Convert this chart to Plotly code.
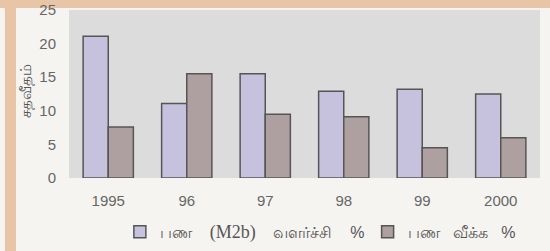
import plotly.graph_objects as go

categories = ["1995", "96", "97", "98", "99", "2000"]
money_growth = [21.1, 11.1, 15.5, 12.9, 13.2, 12.5]
inflation = [7.6, 15.5, 9.5, 9.1, 4.5, 6.0]
series_names = [
    "பண&nbsp;&nbsp;&nbsp; <span style='font-family:Liberation Serif;font-size:18px'>(M2b)</span>&nbsp;&nbsp;&nbsp; வளர்ச்சி&nbsp;&nbsp;&nbsp; %",
    "பண&nbsp;&nbsp; வீக்க&nbsp;&nbsp; %",
]
y_title = "சதவீதம்"
y_ticks = [0, 5, 10, 15, 20, 25]

fig = go.Figure()
fig.add_trace(go.Bar(x=categories, y=money_growth, name=series_names[0], legend="legend",
                     marker=dict(color="#c6c2de", line=dict(color="#555555", width=1.5))))
fig.add_trace(go.Bar(x=categories, y=inflation, name=series_names[1], legend="legend2",
                     marker=dict(color="#ae9fa0", line=dict(color="#555555", width=1.5))))

tan = "#e8c5a6"
fig.add_shape(type="rect", xref="paper", yref="paper", x0=-0.2, x1=1.05, y0=1.012, y1=1.07,
              fillcolor=tan, line=dict(width=0), layer="below")
fig.add_shape(type="rect", xref="paper", yref="paper", x0=-0.136, x1=-0.1125, y0=-0.45, y1=1.07,
              fillcolor=tan, line=dict(width=0), layer="below")

fig.add_annotation(text=y_title, xref="paper", yref="paper", x=-0.093, y=0.52,
                   textangle=-90, showarrow=False, font=dict(size=15, color="#555555"),
                   xanchor="center", yanchor="middle")

legend_style = dict(orientation="h", yanchor="middle", xanchor="left",
                    font=dict(size=16, color="#555555"), bgcolor="rgba(0,0,0,0)",
                    itemwidth=30)

fig.update_layout(
    width=550, height=251,
    margin=dict(l=69, r=10, t=10, b=73, autoexpand=False),
    paper_bgcolor="#f6f4f0",
    plot_bgcolor="#dcdcdc",
    barmode="group",
    bargap=0.36,
    bargroupgap=0,
    font=dict(family="Liberation Sans, Arial, sans-serif", color="#666666"),
    showlegend=True,
    legend=dict(x=0.108, y=-0.32, **legend_style),
    legend2=dict(x=0.634, y=-0.32, **legend_style),
    xaxis=dict(showgrid=False, zeroline=False, showline=False, ticks="",
               tickfont=dict(size=15, color="#666666"), ticklabelstandoff=12),
    yaxis=dict(range=[0, 25], tickvals=y_ticks, showgrid=False, zeroline=False,
               showline=False, ticks="", tickfont=dict(size=15, color="#666666"),
               ticklabelstandoff=12),
)

fig.write_html("out.html", config={"displayModeBar": False},
               post_script="document.body.style.margin='0';")
